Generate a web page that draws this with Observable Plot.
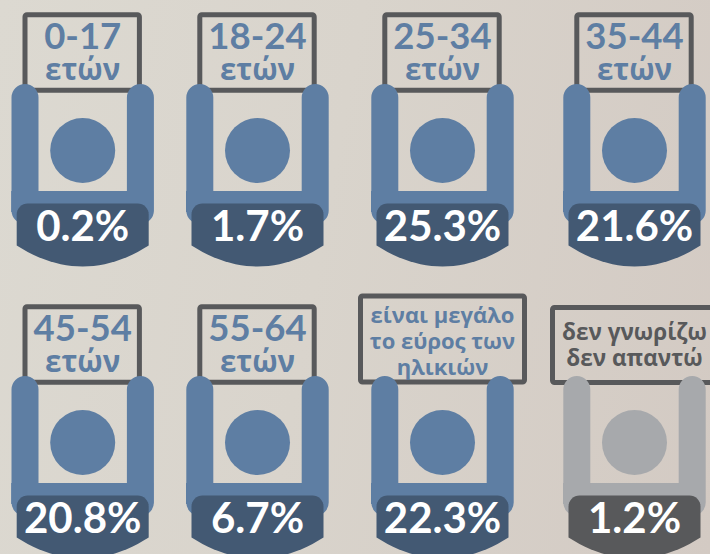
<!DOCTYPE html>
<html lang="el">
<head>
<meta charset="utf-8">
<script src="https://cdn.jsdelivr.net/npm/d3@7"></script>
<script src="https://cdn.jsdelivr.net/npm/@observablehq/plot@0.6"></script>
<style>
html,body{margin:0;padding:0;width:710px;height:554px;overflow:hidden;
background:linear-gradient(100deg,#dcd9d1 0%,#d9d4cc 45%,#d3cac3 100%);}
svg{display:block;background:transparent!important;}
</style>
</head>
<body>
<div id="chart"></div>
<script>
// ---- data ----
const categories = ["0-17","18-24","25-34","35-44","45-54","55-64","range","unknown"];
const shares = [0.2,1.7,25.3,21.6,20.8,6.7,22.3,1.2];
const labelLines = [
  ["0-17","ετών"],["18-24","ετών"],["25-34","ετών"],["35-44","ετών"],
  ["45-54","ετών"],["55-64","ετών"],
  ["είναι μεγάλο","το εύρος των","ηλικιών"],
  ["δεν γνωρίζω","δεν απαντώ"]
];

// ---- layout ----
const colCentre = [82.2,257,442,634];
const rowTop = [0,292];
const blue="#5e7ea3", navy="#435973", grey="#a7a9ac", charcoal="#58595b";
const greekFont='"Open Sans", "Noto Sans", sans-serif';
const digitFont='Lato, "Open Sans", sans-serif';

const figures = categories.map((c,i)=>{
  const cx = colCentre[i%4], top = rowTop[i<4?0:1];
  const muted = c==="unknown";
  let sign = {x1:cx-57.2,x2:cx+57.2,y1:14.7+top,y2:90.3+top};
  if(c==="range") sign = {x1:cx-81.5,x2:cx+82.5,y1:296,y2:382};
  if(c==="unknown") sign = {x1:cx-81.5,x2:cx+90,y1:307.5,y2:382.5};
  return {c,i,cx,top,value:shares[i],sign,
    body:muted?grey:blue, band:muted?charcoal:navy, ink:muted?charcoal:blue};
});

// outline helpers (pictogram template, shifted per figure)
function bandOutline(f){
  const pts=[], l=f.cx-66, r=f.cx+66, t=203+f.top, side=245+f.top, low=266+f.top, rad=11;
  for(let a=0;a<=8;a++){const th=Math.PI+a/8*Math.PI/2;pts.push([l+rad+rad*Math.cos(th),t+rad+rad*Math.sin(th)]);}
  for(let a=0;a<=8;a++){const th=-Math.PI/2+a/8*Math.PI/2;pts.push([r-rad+rad*Math.cos(th),t+rad+rad*Math.sin(th)]);}
  for(let a=0;a<=24;a++){const u=a/24, dx=1-2*u;pts.push([f.cx+dx*66,side+(low-side)*(1-dx*dx)]);}
  return pts.map(([x,y])=>({x,y,id:f.i,fill:f.band}));
}
function armsOutline(f){
  const a=57.7, top=97+f.top, low=210+f.top;
  return [[f.cx-a,top],[f.cx-a,low],[f.cx+a,low],[f.cx+a,top]].map(([x,y])=>({x,y,id:f.i,stroke:f.body}));
}

const lineRows = [];
figures.forEach(f=>{
  const lines = labelLines[f.i];
  let ys, size;
  if(lines.length===2 && f.c!=="unknown"){ ys=[37,70]; size=[36.5,29.5]; }
  else if(f.c==="range"){ ys=[23,49,75]; size=[22,22,22]; }
  else { ys=[40,66]; size=[22.5,22.5]; }
  lines.forEach((t,k)=>lineRows.push({t,x:f.cx,y:ys[k]+f.top,size:size[k],ink:f.ink,digits:/^\d/.test(t)}));
});

const chart = Plot.plot({
  width:710,height:554,margin:0,
  x:{domain:[0,710],range:[0,710],axis:null},
  y:{domain:[0,554],range:[0,554],axis:null},
  style:{background:"transparent",fontFamily:greekFont},
  marks:[
    Plot.rect(figures,{x1:d=>d.sign.x1,x2:d=>d.sign.x2,y1:d=>d.sign.y1,y2:d=>d.sign.y2,
      fill:"none",stroke:charcoal,strokeWidth:5,rx:2}),
    Plot.rect(figures,{x1:d=>d.cx-71,x2:d=>d.cx+71,y1:d=>191+d.top,y2:d=>212+d.top,fill:"body"}),
    Plot.line(figures.flatMap(armsOutline),{x:"x",y:"y",z:"id",stroke:"stroke",strokeWidth:27,
      strokeLinecap:"round",strokeLinejoin:"round",curve:"linear"}),
    Plot.dot(figures,{x:"cx",y:d=>150+d.top,r:32.5,fill:"body",stroke:"none"}),
    Plot.line(figures.flatMap(bandOutline),{x:"x",y:"y",z:"id",fill:"fill",stroke:"none",curve:"linear"}),
    Plot.text(lineRows.filter(d=>!d.digits),{x:"x",y:"y",text:"t",fontSize:"size",fill:"ink",fontWeight:700,
      fontFamily:greekFont,textAnchor:"middle",lineAnchor:"middle"}),
    Plot.text(lineRows.filter(d=>d.digits),{x:"x",y:"y",text:"t",fontSize:"size",fill:"ink",fontWeight:700,
      fontFamily:digitFont,textAnchor:"middle",lineAnchor:"middle"}),
    Plot.text(figures,{x:"cx",y:d=>227+d.top,text:d=>d.value.toFixed(1)+"%",fontSize:42,fill:"white",
      fontWeight:700,fontFamily:digitFont,textAnchor:"middle",lineAnchor:"middle"})
  ]
});
document.getElementById("chart").append(chart);
</script>
</body>
</html>
